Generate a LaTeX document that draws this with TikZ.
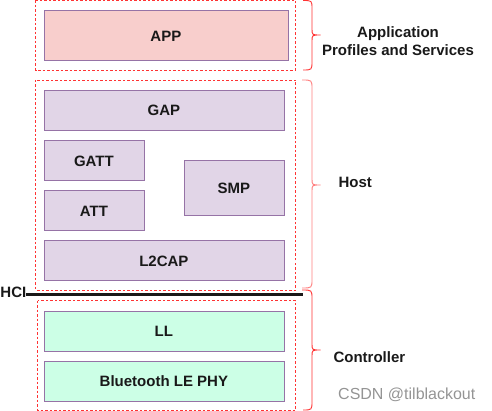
\documentclass[tikz,border=0pt]{standalone}
\usepackage{fontspec}
\setmainfont{Liberation Sans}
\begin{document}
\begin{tikzpicture}[x=1pt,y=-1pt,
  layer/.style={draw=purplestroke, line width=0.8pt, inner sep=0pt, anchor=north west, font=\bfseries\fontsize{15}{17}\selectfont, text=black!90},
  hostbox/.style={layer, fill=hostfill},
  appbox/.style={layer, fill=appfill},
  ctrlbox/.style={layer, fill=ctrlfill},
  group/.style={draw=dashred, dashed, dash pattern=on 2.5pt off 2pt, line width=0.7pt},
  bracered/.style={draw=bracecol, line width=0.9pt},
  bracepink/.style={draw=bracepinkcol, line width=0.9pt},
  lbl/.style={font=\bfseries\fontsize{15}{18}\selectfont, align=center, text=black!90}
]
\definecolor{purplestroke}{HTML}{9673A6}
\definecolor{hostfill}{HTML}{E1D5E7}
\definecolor{appfill}{HTML}{F8CECC}
\definecolor{ctrlfill}{HTML}{CCFFE6}
\definecolor{dashred}{HTML}{FF3333}
\definecolor{bracecol}{HTML}{FF3333}
\definecolor{bracepinkcol}{HTML}{FF8080}
\useasboundingbox (0,0) rectangle (492,411);

% dashed groups
\draw[group] (35.5,0.5) rectangle (295.5,70);
\draw[group] (35.5,80) rectangle (295.5,290);
\draw[group] (37.5,300.5) rectangle (295.5,410);

% layers
\node[appbox, minimum width=244pt, minimum height=50pt] (app) at (43.5,10.5) {APP};
\node[hostbox, minimum width=240pt, minimum height=40pt] (gap) at (43.5,90) {GAP};
\node[hostbox, minimum width=100pt, minimum height=40pt] (gatt) at (43.5,140.5) {GATT};
\node[hostbox, minimum width=100pt, minimum height=40pt] (att) at (43.5,190.5) {ATT};
\node[hostbox, minimum width=100pt, minimum height=55pt] (smp) at (183.5,160.5) {SMP};
\node[hostbox, minimum width=240pt, minimum height=40pt] (l2cap) at (43.5,240.5) {L2CAP};
\node[ctrlbox, minimum width=240pt, minimum height=40pt] (ll) at (43.5,310.5) {LL};
\node[ctrlbox, minimum width=240pt, minimum height=40pt] (phy) at (43.5,360.5) {Bluetooth LE PHY};

% HCI
\coordinate (hcia) at (26,295);
\coordinate (hcib) at (303,295);
\draw[line width=3pt, black!90] (hcia) -- (hcib);
\node[font=\bfseries\fontsize{15}{17}\selectfont, anchor=east, inner sep=0pt, text=black!90] (hci) at (26.5,292) {HCI};

% braces
\draw[bracered] (303,0.5) .. controls (312,0.5) .. (312,9) -- (312,29) .. controls (312,35) .. (320.5,35)
  .. controls (312,35) .. (312,41) -- (312,61) .. controls (312,70) .. (303,70);
\draw[bracepink] (302,80) .. controls (312,80) .. (312,89) -- (312,179) .. controls (312,185) .. (320.5,185)
  .. controls (312,185) .. (312,191) -- (312,279) .. controls (312,288) .. (302,288);
\draw[bracered] (302,290) .. controls (312,290) .. (312,299) -- (312,344) .. controls (312,350) .. (320.5,350)
  .. controls (312,350) .. (312,356) -- (312,401) .. controls (312,410) .. (303,410);

% labels
\node[lbl] (lapp) at (398,41) {Application\\Profiles and Services};
\node[lbl, anchor=west] (lhost) at (335,182) {Host};
\node[lbl, anchor=west] (lctrl) at (330,357) {Controller};
\node[font=\fontsize{16}{18}\selectfont, text=black!42, anchor=west, inner sep=0pt] (wm) at (338,395) {CSDN @tilblackout};
\end{tikzpicture}
\end{document}
